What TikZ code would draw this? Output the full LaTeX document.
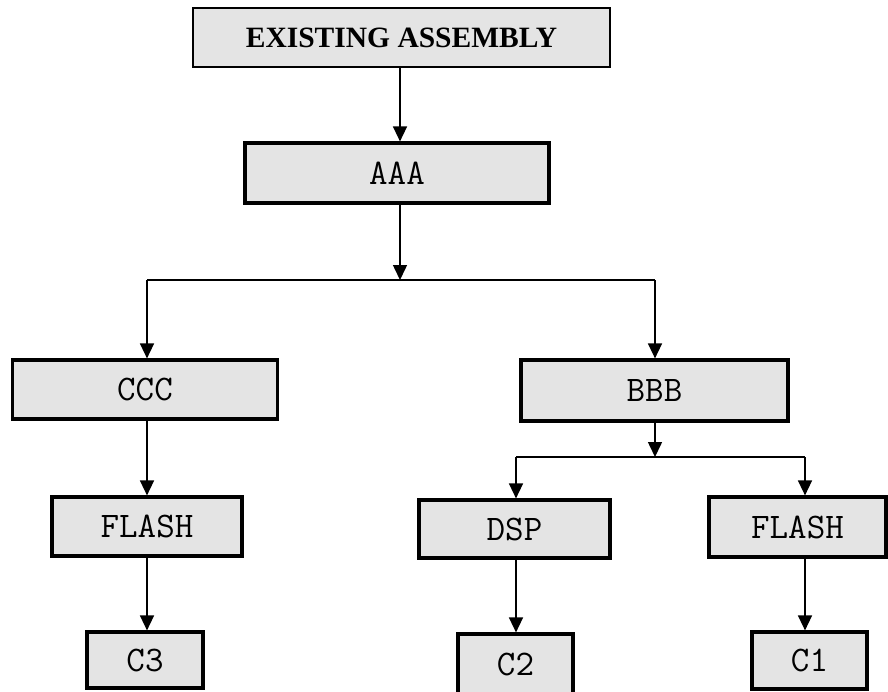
\documentclass[tikz,border=0pt]{standalone}
\usepackage{fontspec}
\setmainfont{Liberation Serif}
\usetikzlibrary{arrows.meta}

\definecolor{boxgray}{RGB}{228,228,228}

\tikzset{
  box/.style={draw, fill=boxgray, line width=3.2pt, inner sep=0pt,
    font=\ttfamily\fontsize{36}{36}\selectfont},
  wire/.style={line width=1.5pt},
  arr/.style={wire, -{Triangle[width=14pt,length=15pt]}}
}

\begin{document}
\begin{tikzpicture}[x=1pt, y=-1pt]
  \useasboundingbox (0,0) rectangle (888,691);

  % boxes, one per part
  \node[box, line width=2.6pt, minimum width=417pt, minimum height=59pt,
    font=\bfseries\fontsize{29.5}{29.5}\selectfont] (asm) at (401.5,37.5) {EXISTING ASSEMBLY};
  \node[box, minimum width=304pt, minimum height=60pt] (aaa) at (397,173) {AAA};
  \node[box, minimum width=265pt, minimum height=59pt] (ccc) at (145,389.5) {CCC};
  \node[box, minimum width=267pt, minimum height=61pt] (bbb) at (654.5,390.5) {BBB};
  \node[box, minimum width=190pt, minimum height=59pt] (flashc) at (147,526.5) {FLASH};
  \node[box, minimum width=191pt, minimum height=58pt] (dsp) at (514.5,529) {DSP};
  \node[box, minimum width=177pt, minimum height=60pt] (flashb) at (797.5,527) {FLASH};
  \node[box, minimum width=116pt, minimum height=56pt] (c3) at (145,660) {C3};
  \node[box, minimum width=115pt, minimum height=60pt] (c2) at (515.5,664) {C2};
  \node[box, minimum width=115pt, minimum height=57pt] (c1) at (809.5,660.5) {C1};

  % split points
  \coordinate (splitA) at (400,280);
  \coordinate (splitB) at (655,457);

  \draw[arr] (asm.south -| splitA) -- (aaa.north -| splitA);
  \draw[arr] (aaa.south -| splitA) -- (splitA);
  \draw[wire] (147,280) -- (splitA) -- (655,280);
  \draw[arr] (147,280) -- (ccc.north -| 147,0);
  \draw[arr] (655,280) -- (bbb.north -| 655,0);

  \draw[arr] (bbb.south -| splitB) -- (splitB);
  \draw[wire] (516,457) -- (splitB) -- (805,457);
  \draw[arr] (516,457) -- (dsp.north -| 516,0);
  \draw[arr] (805,457) -- (flashb.north -| 805,0);

  \draw[arr] (ccc.south -| 147,0) -- (flashc.north -| 147,0);
  \draw[arr] (flashc.south -| 147,0) -- (c3.north -| 147,0);
  \draw[arr] (dsp.south -| 516,0) -- (c2.north -| 516,0);
  \draw[arr] (flashb.south -| 805,0) -- (c1.north -| 805,0);
\end{tikzpicture}
\end{document}
